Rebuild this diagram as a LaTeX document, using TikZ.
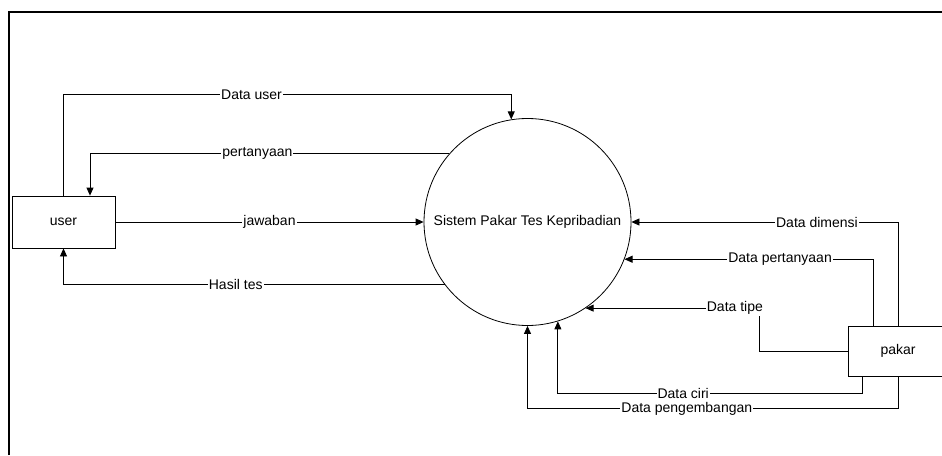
\documentclass[tikz,border=0pt]{standalone}
\usepackage{fontspec}
\setmainfont{Liberation Sans}
\usetikzlibrary{arrows.meta,calc}
\begin{document}
\begin{tikzpicture}[x=1pt,y=-1pt,
  every node/.style={font=\fontsize{14}{16}\selectfont},
  flow/.style={draw=black,line width=0.8pt,-{Triangle[length=8pt,width=7pt]}},
  lbl/.style={fill=white,inner sep=1pt},
  ent/.style={draw=black,line width=0.8pt,rectangle,inner sep=0pt},
  proc/.style={draw=black,line width=0.8pt,circle,inner sep=0pt,minimum size=207pt}]
\useasboundingbox (0,0) rectangle (942,455);
\draw[line width=2pt] (9,455) -- (9,12) -- (942,12);
\node[ent,minimum width=103pt,minimum height=52pt] (user) at (63.5,222) {user};
\node[ent,minimum width=100pt,minimum height=50pt] (pakar) at (898,351) {pakar};
\node[proc] (sys) at (527.5,222) {Sistem Pakar Tes Kepribadian};
% user side
\draw[flow] (user.north) -- ++(0,-101) -| node[lbl,pos=0.21]{Data user} (sys.99.7);
\draw[flow] (sys.139.7) -| node[lbl,pos=0.267]{pertanyaan} ($(user.north)+(26.5,0)$);
\draw[flow] (user.east) -- node[lbl]{jawaban} (sys.west);
\draw[flow] (sys.-143.2) -| node[lbl,pos=0.274]{Hasil tes} (user.south);
% pakar side
\draw[flow] (pakar.north) |- node[lbl,pos=0.652]{Data dimensi} (sys.east);
\draw[flow] ($(pakar.north)+(-25,0)$) |- node[lbl,pos=0.687]{Data pertanyaan} (sys.-21.5);
\draw[flow] (pakar.west) -- ++(-88,0) |- node[lbl,pos=0.571]{Data tipe} (sys.-56.2);
\draw[flow] ($(pakar.south)+(-36,0)$) -- ++(0,17) -| node[lbl,pos=0.294]{Data ciri} (sys.-73.4);
\draw[flow] (pakar.south) -- ++(0,32) -| node[lbl,pos=0.285]{Data pengembangan} (sys.south);
\end{tikzpicture}
\end{document}
